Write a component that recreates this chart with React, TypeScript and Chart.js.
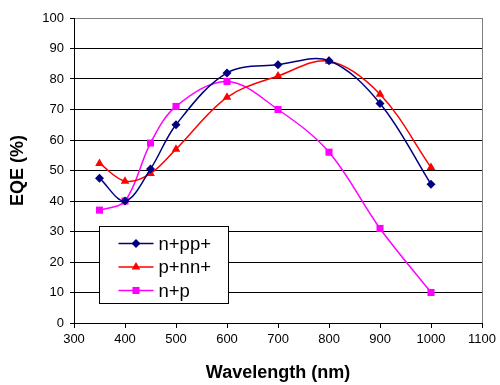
import React, { useEffect, useRef } from "react";
import { Chart, registerables } from "chart.js";

Chart.register(...registerables);

const wavelengths = [350, 400, 450, 500, 600, 700, 800, 900, 1000];
const npp = [47.5, 40, 50.5, 65, 82, 84.7, 86, 72, 45.5];
const pnn = [52.3, 46.5, 49, 57, 74, 81, 85.8, 75, 51];
const np = [37, 40, 59, 71, 79.2, 70, 56, 31, 10];
const seriesNames = ["n+pp+", "p+nn+", "n+p"];
const xTitle = "Wavelength (nm)";
const yTitle = "EQE (%)";

const FONT = "'Liberation Sans', Arial, sans-serif";

function drawMarker(ctx: CanvasRenderingContext2D, style: string, x: number, y: number, r: number, color: string) {
  ctx.save();
  ctx.fillStyle = color;
  ctx.beginPath();
  if (style === "rectRot") {
    ctx.moveTo(x, y - r);
    ctx.lineTo(x + r, y);
    ctx.lineTo(x, y + r);
    ctx.lineTo(x - r, y);
  } else if (style === "triangle") {
    const a = -Math.PI / 2;
    for (let i = 0; i < 3; i++) {
      const ang = a + (i * 2 * Math.PI) / 3;
      const px = x + Math.cos(ang) * r;
      const py = y + Math.sin(ang) * r;
      if (i === 0) ctx.moveTo(px, py);
      else ctx.lineTo(px, py);
    }
  } else {
    const s = Math.SQRT1_2 * r;
    ctx.rect(x - s, y - s, 2 * s, 2 * s);
  }
  ctx.closePath();
  ctx.fill();
  ctx.restore();
}

const legendPlugin = {
  id: "insideLegend",
  afterDatasetsDraw(chart: any) {
    const ctx = chart.ctx as CanvasRenderingContext2D;
    const area = chart.chartArea;
    const left = area.left + 25.5;
    const top = area.top + 208.5;
    const w = 129;
    const h = 77;
    ctx.save();
    ctx.fillStyle = "#ffffff";
    ctx.fillRect(left, top, w, h);
    ctx.strokeStyle = "#000000";
    ctx.lineWidth = 1;
    ctx.strokeRect(left, top, w, h);
    ctx.font = `18.5px ${FONT}`;
    ctx.textBaseline = "middle";
    ctx.textAlign = "left";
    chart.data.datasets.forEach((ds: any, i: number) => {
      const y = top + 17 + i * 23.5;
      ctx.strokeStyle = ds.borderColor;
      ctx.lineWidth = 1.5;
      ctx.beginPath();
      ctx.moveTo(left + 19, y);
      ctx.lineTo(left + 54, y);
      ctx.stroke();
      drawMarker(ctx, ds.pointStyle, left + 36.5, y, ds.pointRadius, ds.backgroundColor);
      ctx.fillStyle = "#000000";
      ctx.fillText(ds.label, left + 59, y + 1);
    });
    ctx.restore();
  },
};

export default function App() {
  const ref = useRef<HTMLCanvasElement | null>(null);

  useEffect(() => {
    if (!ref.current) return;
    const mk = (vals: number[]) => wavelengths.map((x, i) => ({ x, y: vals[i] }));
    const chart = new Chart(ref.current, {
      type: "line",
      data: {
        datasets: [
          {
            label: seriesNames[0],
            data: mk(npp),
            borderColor: "#000080",
            backgroundColor: "#000080",
            pointStyle: "rectRot",
            pointRadius: 4.5,
            pointBorderWidth: 0,
            borderWidth: 1.5,
            tension: 0.35,
          },
          {
            label: seriesNames[1],
            data: mk(pnn),
            borderColor: "#ff0000",
            backgroundColor: "#ff0000",
            pointStyle: "triangle",
            pointRadius: 5,
            pointBorderWidth: 0,
            borderWidth: 1.5,
            tension: 0.35,
          },
          {
            label: seriesNames[2],
            data: mk(np),
            borderColor: "#ff00ff",
            backgroundColor: "#ff00ff",
            pointStyle: "rect",
            pointRadius: 5,
            pointBorderWidth: 0,
            borderWidth: 1.5,
            tension: 0.35,
          },
        ],
      } as any,
      options: {
        responsive: false,
        animation: false,
        devicePixelRatio: 1,
        layout: { padding: { top: 18, right: 16, left: 0, bottom: 0 } },
        plugins: { legend: { display: false }, tooltip: { enabled: false } },
        scales: {
          x: {
            type: "linear",
            min: 300,
            max: 1100,
            afterFit: (s: any) => {
              s.height = 62;
            },
            ticks: {
              stepSize: 100,
              color: "#000",
              font: { family: FONT, size: 13 },
              padding: 4,
              maxRotation: 0,
              callback: (v: any) => String(v),
            },
            grid: {
              color: (c: any) => (c.tick && c.tick.value === 1100 ? "#808080" : "rgba(0,0,0,0)"),
              tickColor: "#000",
              tickLength: 5,
            },
            border: { color: "#000", width: 1 },
            title: {
              display: true,
              text: xTitle,
              color: "#000",
              font: { family: FONT, size: 18, weight: "bold" },
              padding: { top: 0, bottom: 1 },
            },
          },
          y: {
            min: 0,
            max: 100,
            afterFit: (s: any) => {
              s.width = 74;
            },
            ticks: {
              stepSize: 10,
              color: "#000",
              font: { family: FONT, size: 13 },
              padding: 6,
              callback: (v: any) => String(v),
            },
            grid: {
              color: (c: any) => (c.tick && c.tick.value === 100 ? "#808080" : "#000"),
              tickColor: "#000",
              tickLength: 4,
            },
            border: { color: "#000", width: 1 },
            title: {
              display: true,
              text: yTitle,
              color: "#000",
              font: { family: FONT, size: 18, weight: "bold" },
              padding: { top: 7, bottom: 0 },
            },
          },
        },
      } as any,
      plugins: [legendPlugin],
    });
    return () => chart.destroy();
  }, []);

  return (
    <div style={{ position: "fixed", left: 0, top: 0, width: 500, height: 385, background: "#fff" }}>
      <canvas ref={ref} width={500} height={385} />
    </div>
  );
}
